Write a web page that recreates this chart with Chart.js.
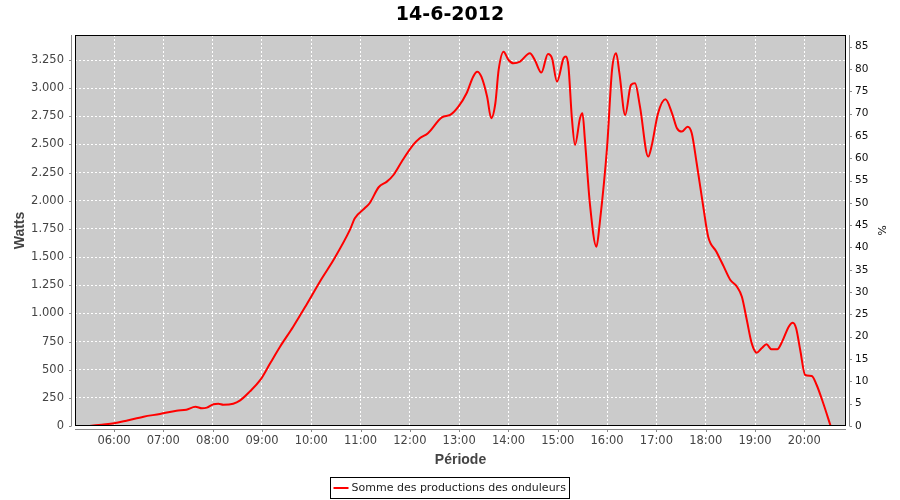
<!DOCTYPE html>
<html><head><meta charset="utf-8">
<script src="https://cdn.jsdelivr.net/npm/chart.js@4.4.1/dist/chart.umd.min.js"></script>
<style>html,body{margin:0;padding:0;background:#fff}</style>
</head><body>
<canvas id="c" width="900" height="500" style="width:900px;height:500px;display:block"></canvas>
<script>
const chartTitle = '14-6-2012';
const seriesLabel = 'Somme des productions des onduleurs';
const xTitle = 'Période';
const yTitle = 'Watts';
const y2Title = '%';

const times = ['05:30','05:45','06:00','06:15','06:36','06:56','07:16','07:28','07:39','07:47','07:53','08:01','08:07','08:13','08:25','08:33','08:45','08:58','09:10','09:22','09:38','09:54','10:13','10:27','10:47','10:53','11:05','11:11','11:22','11:32','11:40','11:50','12:04','12:12','12:22','12:39','12:49','12:59','13:09','13:17','13:22','13:27','13:34','13:39','13:44','13:48','13:54','14:00','14:06','14:14','14:26','14:32','14:40','14:48','14:53','14:59','15:07','15:10','15:13','15:17','15:21','15:27','15:30','15:33','15:39','15:47','15:51','16:00','16:06','16:11','16:15','16:22','16:29','16:34','16:40','16:50','16:54','17:02','17:11','17:19','17:25','17:31','17:38','17:43','17:49','17:57','18:03','18:13','18:22','18:30','18:38','18:44','18:50','18:56','19:02','19:08','19:14','19:20','19:27','19:33','19:41','19:46','19:50','19:55','20:01','20:09','20:15','20:23','20:32'];
const watts = [0,12,24,47,83,107,136,145,171,157,163,193,198,189,198,225,305,409,557,704,882,1075,1312,1474,1741,1845,1933,1978,2120,2170,2229,2347,2496,2555,2600,2741,2762,2836,2955,3102,3146,3102,2924,2733,2866,3162,3324,3250,3221,3236,3310,3250,3138,3304,3265,3058,3265,3280,3191,2747,2496,2733,2777,2540,1978,1592,1800,2480,3162,3310,3131,2762,3028,3043,2836,2392,2481,2777,2901,2777,2644,2614,2658,2600,2333,1948,1681,1548,1415,1297,1237,1148,941,734,651,690,725,681,681,749,882,917,868,675,453,444,364,202,0];

const hourTicks = ['06:00','07:00','08:00','09:00','10:00','11:00','12:00','13:00','14:00','15:00','16:00','17:00','18:00','19:00','20:00'];
const wattTicks = [0,250,500,750,1000,1250,1500,1750,2000,2250,2500,2750,3000,3250];
const pctTicks = [0,5,10,15,20,25,30,35,40,45,50,55,60,65,70,75,80,85];

const toMin = s => { const [h,m] = s.split(':').map(Number); return h*60+m; };
const fmtMin = v => { const h = Math.floor(v/60), m = Math.round(v-h*60); return String(h).padStart(2,'0')+':'+String(m).padStart(2,'0'); };
const fmtW = v => { const s = String(Math.round(v)); return s.length>3 ? s.slice(0,-3)+'.'+s.slice(-3) : s; };

const points = times.map((t,i)=>({x:toMin(t), y:watts[i]}));

const TICK_FONT = {family:'DejaVu Sans', size:11.5};
const AX_TITLE_FONT = {family:'Liberation Sans', size:14, weight:'bold'};

const decor = {
  id:'decor',
  beforeDraw(chart){
    const {ctx, chartArea:a} = chart;
    ctx.save();
    ctx.fillStyle = '#fff';
    ctx.fillRect(0,0,chart.width,chart.height);
    ctx.fillStyle = '#cbcbcb';
    ctx.fillRect(a.left,a.top,a.right-a.left,a.bottom-a.top);
    ctx.restore();
  },
  afterDraw(chart){
    const {ctx, chartArea:a, scales} = chart;
    ctx.save();
    ctx.strokeStyle = '#000'; ctx.lineWidth = 1;
    ctx.strokeRect(a.left+0.5, a.top+0.5, a.right-a.left-1, a.bottom-a.top-1);
    ctx.strokeStyle = '#888';
    ctx.beginPath();
    const lx = a.left-3.5, rx = a.right+3.5, by = a.bottom+3.5;
    ctx.moveTo(lx, a.top); ctx.lineTo(lx, a.bottom);
    ctx.moveTo(rx, a.top); ctx.lineTo(rx, a.bottom);
    ctx.moveTo(a.left, by); ctx.lineTo(a.right, by);
    scales.y.ticks.forEach(t=>{ const p = Math.round(scales.y.getPixelForValue(t.value))+0.5; ctx.moveTo(lx-2.5,p); ctx.lineTo(lx,p); });
    scales.y2.ticks.forEach(t=>{ const p = Math.round(scales.y2.getPixelForValue(t.value))+0.5; ctx.moveTo(rx,p); ctx.lineTo(rx+2.5,p); });
    scales.x.ticks.forEach(t=>{ const p = Math.round(scales.x.getPixelForValue(t.value))+0.5; ctx.moveTo(p,by); ctx.lineTo(p,by+2.5); });
    ctx.stroke();
    ctx.font = '11px "DejaVu Sans"';
    const tw = ctx.measureText(seriesLabel).width;
    const bw = 3+15+3+tw+4, bh = 21;
    const bx = Math.round(chart.width/2 - bw/2)+0.5, byy = 477.5;
    ctx.strokeStyle = '#000'; ctx.lineWidth = 1;
    ctx.strokeRect(bx, byy, Math.round(bw), bh);
    ctx.strokeStyle = '#ff0000'; ctx.lineWidth = 2;
    ctx.beginPath(); ctx.moveTo(bx+3, byy+10.5); ctx.lineTo(bx+18, byy+10.5); ctx.stroke();
    ctx.fillStyle = '#222'; ctx.textBaseline = 'middle'; ctx.textAlign = 'left';
    ctx.fillText(seriesLabel, bx+21, byy+11);
    ctx.restore();
  }
};

new Chart(document.getElementById('c'), {
  type:'line',
  data:{ datasets:[{ label:seriesLabel, data:points, borderColor:'#ff0000', borderWidth:2, pointRadius:0, fill:false, cubicInterpolationMode:'monotone', yAxisID:'y' }] },
  options:{
    responsive:false, animation:false, devicePixelRatio:1,
    layout:{padding:{left:0,right:0,top:0,bottom:30}},
    plugins:{
      legend:{display:false}, tooltip:{enabled:false},
      title:{display:true, text:chartTitle, color:'#000', font:{family:'DejaVu Sans', size:19, weight:'bold'}, padding:{top:4,bottom:8.2}}
    },
    scales:{
      x:{
        type:'linear', min:312.5, max:1250.7,
        afterBuildTicks:s=>{ s.ticks = hourTicks.map(h=>({value:toMin(h)})); },
        afterFit:s=>{ s.height = 44; },
        ticks:{ callback:v=>fmtMin(v), font:TICK_FONT, color:'#444', padding:8, maxRotation:0, autoSkip:false },
        grid:{ color:'#ffffff', lineWidth:1, drawTicks:false, borderDash:[2,2] },
        border:{ display:false, dash:[2,2] },
        title:{ display:true, text:xTitle, font:AX_TITLE_FONT, color:'#444', padding:{top:0,bottom:1} }
      },
      y:{
        type:'linear', position:'left', min:0, max:3472,
        afterBuildTicks:s=>{ s.ticks = wattTicks.map(v=>({value:v})); },
        afterFit:s=>{ s.width = 75; },
        ticks:{ callback:v=>fmtW(v), font:TICK_FONT, color:'#444', padding:11 },
        grid:{ color:'#ffffff', lineWidth:1, drawTicks:false, borderDash:[2,2] },
        border:{ display:false, dash:[2,2] },
        title:{ display:true, text:yTitle, font:AX_TITLE_FONT, color:'#444', padding:{top:12,bottom:0} }
      },
      y2:{
        type:'linear', position:'right', min:0, max:87.6,
        afterBuildTicks:s=>{ s.ticks = pctTicks.map(v=>({value:v})); },
        afterFit:s=>{ s.width = 54; },
        ticks:{ font:{family:'DejaVu Sans', size:10.5}, color:'#111', padding:9 },
        grid:{ drawOnChartArea:false, drawTicks:false },
        border:{ display:false },
        title:{ display:true, text:y2Title, font:{family:'DejaVu Sans', size:11}, color:'#111', padding:{top:13,bottom:0} }
      }
    }
  },
  plugins:[decor]
});
</script>
</body></html>
